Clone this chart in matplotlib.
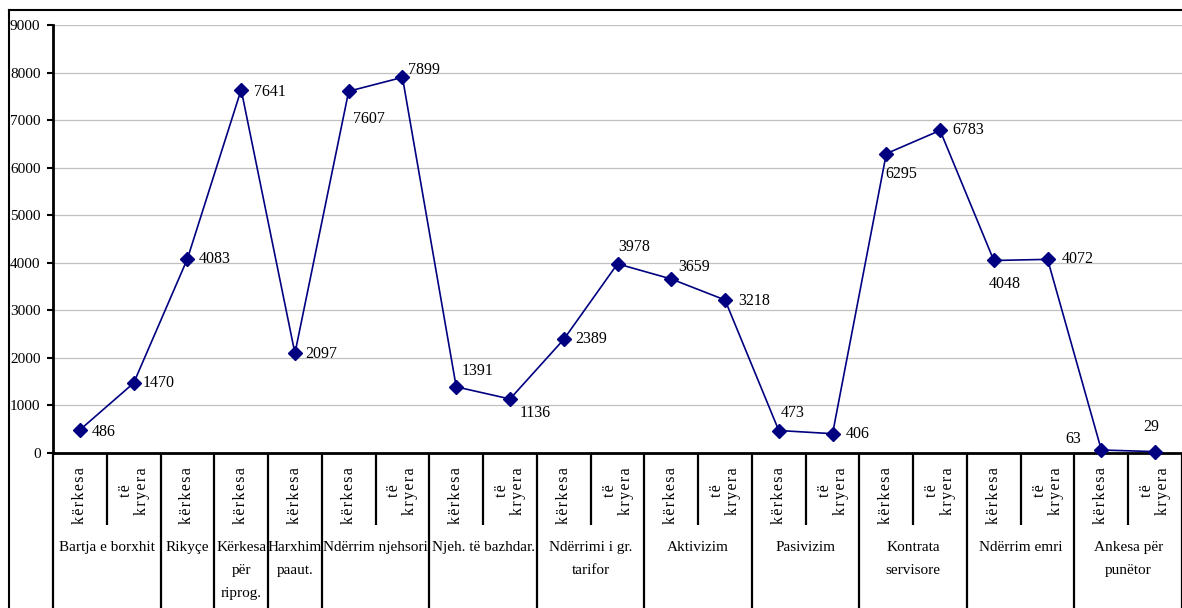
import matplotlib
matplotlib.use("Agg")
import matplotlib.pyplot as plt
from matplotlib.lines import Line2D
import matplotlib.transforms as mtransforms

# ---- data ----
values = [486, 1470, 4083, 7641, 2097, 7607, 7899, 1391, 1136, 2389, 3978,
          3659, 3218, 473, 406, 6295, 6783, 4048, 4072, 63, 29]
sub_labels = ["kërkesa", "të\nkryera", "kërkesa", "kërkesa", "kërkesa",
              "kërkesa", "të\nkryera", "kërkesa", "të\nkryera",
              "kërkesa", "të\nkryera", "kërkesa", "të\nkryera",
              "kërkesa", "të\nkryera", "kërkesa", "të\nkryera",
              "kërkesa", "të\nkryera", "kërkesa", "të\nkryera"]
group_names = ["Bartja e borxhit", "Rikyçe", "Kërkesa\npër\nriprog.",
               "Harxhim\npaaut.", "Ndërrim njehsori", "Njeh. të bazhdar.",
               "Ndërrimi i gr.\ntarifor", "Aktivizim", "Pasivizim",
               "Kontrata\nservisore", "Ndërrim emri", "Ankesa për\npunëtor"]
group_sizes = [2, 1, 1, 1, 2, 2, 2, 2, 2, 2, 2, 2]
y_ticks = [0, 1000, 2000, 3000, 4000, 5000, 6000, 7000, 8000, 9000]

# label placement (pixels: dx, dy up, horizontal alignment)
label_pos = [(12, -2, "left"), (9, 0, "left"), (11, 0, "left"), (13, -2, "left"),
             (10, -1, "left"), (4, -28, "left"), (6, 7, "left"), (5, 16, "left"),
             (10, -14, "left"), (12, 0, "left"), (1, 17, "left"), (7, 12, "left"),
             (13, -1, "left"), (2, 18, "left"), (13, 0, "left"), (-1, -20, "left"),
             (12, 0, "left"), (-5, -24, "left"), (14, 0, "left"), (-20, 11, "right"),
             (-4, 25, "center")]

SERIF = ["Liberation Serif", "DejaVu Serif"]
plt.rcParams["font.family"] = SERIF
PX = 0.72  # points per pixel at dpi 100

fig = plt.figure(figsize=(11.82, 6.08), dpi=100)
W, H = 1182, 608
ax = fig.add_axes([53 / W, 1 - 453 / H, (1182 - 53) / W, (453 - 25) / H])

x = list(range(len(values)))
ax.plot(x, values, color="#000080", lw=1.2, marker="D", ms=7.6,
        mfc="#000080", mec="#000080", zorder=5, clip_on=False)

for i, v in enumerate(values):
    dx, dy, ha = label_pos[i]
    ax.annotate(str(v), (i, v), xytext=(dx * PX, dy * PX), textcoords="offset points",
                ha=ha, va="center", fontsize=11.5, color="black", zorder=6)

ax.set_xlim(-0.5, len(values) - 0.5)
ax.set_ylim(0, 9000)
ax.set_yticks(y_ticks)
ax.set_yticklabels([str(t) for t in y_ticks], fontsize=11)
ax.tick_params(axis="y", length=4, width=1.5, pad=5, direction="out")
ax.set_xticks([])
ax.grid(axis="y", color="#c0c0c0", lw=0.9)
ax.set_axisbelow(True)
for s in ["top", "right"]:
    ax.spines[s].set_visible(False)
ax.spines["left"].set_linewidth(2)
ax.spines["bottom"].set_linewidth(2)
ax.spines["bottom"].set_zorder(4)

trans = mtransforms.blended_transform_factory(ax.transData, ax.transAxes)
ax_h = 453 - 25
short_y = -(525 - 453) / ax_h
long_y = -(640 - 453) / ax_h

# sub-category labels
for i, lab in enumerate(sub_labels):
    txt = "\n".join("\u200a".join(part) for part in lab.split("\n"))
    ax.annotate(txt, (i, 0), xycoords=trans, xytext=(0, -14 * PX),
                textcoords="offset points", rotation=90, ha="center", va="top",
                fontsize=11.5, multialignment="center", linespacing=1.0)

# separators and group labels
start = 0
boundaries = [0]
for name, size in zip(group_names, group_sizes):
    center = start + (size - 1) / 2
    ax.annotate(name, (center, 0), xycoords=trans, xytext=(0, -88 * PX),
                textcoords="offset points", ha="center", va="top", fontsize=11,
                multialignment="center", linespacing=2.0)
    for k in range(1, size):
        xs = start + k - 0.5
        ax.plot([xs, xs], [0, short_y], transform=trans, color="black", lw=1.6,
                clip_on=False, solid_capstyle="butt")
    start += size
    boundaries.append(start)
for b in boundaries:
    xb = b - 0.5
    ax.plot([xb, xb], [0, long_y], transform=trans, color="black", lw=1.6,
            clip_on=False, solid_capstyle="butt")

# outer frame (left and top edges visible)
fig.add_artist(Line2D([9 / W, 9 / W], [0, 1 - 10 / H], transform=fig.transFigure,
                      color="black", lw=1.5))
fig.add_artist(Line2D([9 / W, 1], [1 - 10 / H, 1 - 10 / H], transform=fig.transFigure,
                      color="black", lw=1.5))

fig.savefig("out.png", dpi=100)
